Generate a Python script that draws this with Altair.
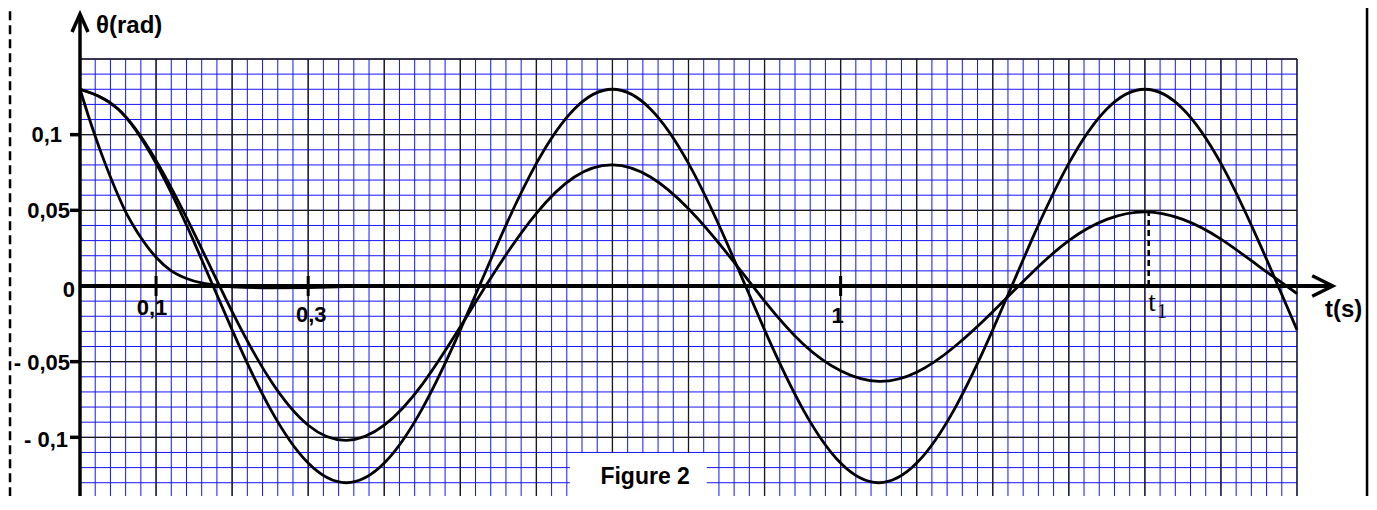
import altair as alt
import pandas as pd

# ---------------- data ----------------
t_osc = [0.00, 0.05, 0.10, 0.15, 0.20, 0.25, 0.30, 0.35, 0.40, 0.45, 0.50,
         0.55, 0.60, 0.65, 0.70, 0.75, 0.80, 0.85, 0.90, 0.95, 1.00, 1.05,
         1.10, 1.15, 1.20, 1.25, 1.30, 1.35, 1.40, 1.45, 1.50, 1.55, 1.60]

# free (undamped) oscillation
theta_free = [0.130, 0.117, 0.081, 0.029, -0.029, -0.081, -0.117, -0.130,
              -0.117, -0.081, -0.029, 0.029, 0.081, 0.117, 0.130, 0.117,
              0.081, 0.029, -0.029, -0.081, -0.117, -0.130, -0.117, -0.081,
              -0.029, 0.029, 0.081, 0.117, 0.130, 0.117, 0.081, 0.029, -0.029]

# damped (pseudo-periodic) oscillation
theta_damped = [0.130, 0.117, 0.083, 0.035, -0.017, -0.062, -0.092, -0.102,
                -0.092, -0.065, -0.027, 0.013, 0.048, 0.072, 0.080, 0.072,
                0.051, 0.022, -0.010, -0.038, -0.056, -0.063, -0.057, -0.040,
                -0.017, 0.008, 0.030, 0.044, 0.049, 0.044, 0.031, 0.013, -0.005]

# aperiodic regime
t_aper = [0.00, 0.01, 0.02, 0.03, 0.04, 0.05, 0.06, 0.07, 0.08, 0.09, 0.10,
          0.12, 0.14, 0.16, 0.18, 0.20, 0.25, 0.30, 0.35, 0.40, 0.60]
theta_aper = [0.130, 0.114, 0.099, 0.085, 0.072, 0.060, 0.049, 0.040, 0.032,
              0.025, 0.019, 0.010, 0.005, 0.002, 0.0005, -0.0005, -0.0012,
              -0.0010, -0.0004, 0.0, 0.0]

# grid
minor_t = [round(i * 0.02, 2) for i in range(81)]
minor_th = [round(-0.15 + i * 0.01, 2) for i in range(31)]
major_t = [round(i * 0.1, 1) for i in range(17)]
major_th = [-0.15, -0.10, -0.05, 0.0, 0.05, 0.10, 0.15]

# axis labels
y_labels = ["0,1", "0,05", "0", "- 0,05", "- 0,1"]
y_label_vals = [0.1, 0.05, 0.0, -0.05, -0.1]
y_tick_vals = [0.1, 0.05, -0.05, -0.1]
x_labels = ["0,1", "0,3", "1"]
x_label_vals = [0.1, 0.3, 1.0]
t1_value = 1.405
t1_theta = 0.049

# ---------------- chart ----------------
W, H = 1217, 437
xs = alt.Scale(domain=[0, 1.6], nice=False, zero=False)
ys = alt.Scale(domain=[-0.13877, 0.15], nice=False, zero=False)


def X(f="t"):
    return alt.X(f"{f}:Q", scale=xs, axis=None)


def Y(f="th"):
    return alt.Y(f"{f}:Q", scale=ys, axis=None)


FONT = "Liberation Sans"
BLUE = "#1414ff"
layers = []

# grid
layers.append(alt.Chart(pd.DataFrame({"t": minor_t})).mark_rule(
    color=BLUE, strokeWidth=1).encode(x=X()))
layers.append(alt.Chart(pd.DataFrame({"th": minor_th})).mark_rule(
    color=BLUE, strokeWidth=1).encode(y=Y(), x=alt.value(0), x2=alt.value(W)))
layers.append(alt.Chart(pd.DataFrame({"t": major_t})).mark_rule(
    color="#1a1a1a", strokeWidth=1.3).encode(x=X()))
layers.append(alt.Chart(pd.DataFrame({"th": major_th})).mark_rule(
    color="#1a1a1a", strokeWidth=1.3).encode(y=Y(), x=alt.value(0), x2=alt.value(W)))

# white box for "Figure 2"
layers.append(alt.Chart(pd.DataFrame({"t": [0.644], "t2": [0.824],
                                      "th": [-0.1104], "th2": [-0.2]}))
              .mark_rect(color="white").encode(x=X(), x2="t2:Q", y=Y(), y2="th2:Q"))

# curves
df_osc = pd.DataFrame({"t": t_osc, "free": theta_free, "damped": theta_damped})
layers.append(alt.Chart(df_osc).mark_line(color="black", strokeWidth=2.8,
                                          interpolate="natural")
              .encode(x=X(), y=Y("free")))
layers.append(alt.Chart(df_osc).mark_line(color="black", strokeWidth=2.8,
                                          interpolate="natural")
              .encode(x=X(), y=Y("damped")))
layers.append(alt.Chart(pd.DataFrame({"t": t_aper, "th": theta_aper}))
              .mark_line(color="black", strokeWidth=2.8, interpolate="monotone")
              .encode(x=X(), y=Y()))

# axes lines
layers.append(alt.Chart(pd.DataFrame({"t": [0.0], "th": [-0.2], "th2": [0.178]}))
              .mark_rule(color="black", strokeWidth=3.5)
              .encode(x=X(), y=Y(), y2="th2:Q"))
layers.append(alt.Chart(pd.DataFrame({"t": [0.0], "t2": [1.645], "th": [0.0]}))
              .mark_rule(color="black", strokeWidth=4)
              .encode(x=X(), x2="t2:Q", y=Y()))

# arrow heads
layers.append(alt.Chart(pd.DataFrame({"t": [-0.0105, 0.0, 0.0105],
                                      "th": [0.1678, 0.1797, 0.1678],
                                      "o": [0, 1, 2]}))
              .mark_line(color="black", strokeWidth=3.5, strokeJoin="miter")
              .encode(x=X(), y=Y(), order="o:Q"))
layers.append(alt.Chart(pd.DataFrame({"t": [1.620, 1.647, 1.620],
                                      "th": [0.0068, 0.0, -0.0068],
                                      "o": [0, 1, 2]}))
              .mark_line(color="black", strokeWidth=3.5, strokeJoin="miter")
              .encode(x=X(), y=Y(), order="o:Q"))

# tick marks
layers.append(alt.Chart(pd.DataFrame({"th": y_tick_vals}))
              .mark_rule(color="black", strokeWidth=3.5)
              .encode(x=alt.value(-10), x2=alt.value(0), y=Y()))
layers.append(alt.Chart(pd.DataFrame({"t": x_label_vals, "th": [0.0066] * 3,
                                      "th2": [-0.0066] * 3}))
              .mark_rule(color="black", strokeWidth=3)
              .encode(x=X(), y=Y(), y2="th2:Q"))

# dashed t1 line
layers.append(alt.Chart(pd.DataFrame({"t": [t1_value], "th": [0.0], "th2": [t1_theta]}))
              .mark_rule(color="black", strokeWidth=2.5, strokeDash=[6, 4])
              .encode(x=X(), y=Y(), y2="th2:Q"))

# y labels
y_dx = [-18, -10, -5, -10, -12]
y_dy = [7, 8, 11, 8, 10]
for lab, v, dx, dy in zip(y_labels, y_label_vals, y_dx, y_dy):
    layers.append(alt.Chart(pd.DataFrame({"t": [0.0], "th": [v], "lab": [lab]}))
                  .mark_text(font=FONT, fontWeight="bold", fontSize=22,
                             align="right", baseline="alphabetic", dx=dx, dy=dy)
                  .encode(x=X(), y=Y(), text="lab:N"))

# x labels
x_dx = [-4, 3, -3]
x_dy = [29, 36, 37]
for lab, v, dx, dy in zip(x_labels, x_label_vals, x_dx, x_dy):
    layers.append(alt.Chart(pd.DataFrame({"t": [v], "th": [0.0], "lab": [lab]}))
                  .mark_text(font=FONT, fontWeight="bold", fontSize=22,
                             align="center", baseline="alphabetic", dx=dx, dy=dy)
                  .encode(x=X(), y=Y(), text="lab:N"))

# t1 label
layers.append(alt.Chart(pd.DataFrame({"t": [1.4], "th": [0.0], "lab": ["t"]}))
              .mark_text(font="Liberation Serif", fontSize=27, align="center",
                         baseline="alphabetic", dx=7, dy=25)
              .encode(x=X(), y=Y(), text="lab:N"))
layers.append(alt.Chart(pd.DataFrame({"t": [1.4], "th": [0.0], "lab": ["1"]}))
              .mark_text(font="Liberation Serif", fontSize=21, align="center",
                         baseline="alphabetic", dx=17, dy=32)
              .encode(x=X(), y=Y(), text="lab:N"))

# axis titles
layers.append(alt.Chart(pd.DataFrame({"t": [0.0], "th": [0.15], "lab": ["θ(rad)"]}))
              .mark_text(font=FONT, fontWeight="bold", fontSize=24, align="left",
                         baseline="alphabetic", dx=16, dy=-26)
              .encode(x=X(), y=Y(), text="lab:N"))
layers.append(alt.Chart(pd.DataFrame({"t": [1.6], "th": [0.0], "lab": ["t(s)"]}))
              .mark_text(font=FONT, fontWeight="bold", fontSize=24, align="left",
                         baseline="alphabetic", dx=28, dy=31)
              .encode(x=X(), y=Y(), text="lab:N"))

# Figure 2
layers.append(alt.Chart(pd.DataFrame({"t": [0.743], "th": [-0.1308], "lab": ["Figure 2"]}))
              .mark_text(font=FONT, fontWeight="bold", fontSize=23, align="center",
                         baseline="alphabetic")
              .encode(x=X(), y=Y(), text="lab:N"))

# page borders
layers.append(alt.Chart(pd.DataFrame({"t": [1.6921], "th": [-0.25], "th2": [0.25]}))
              .mark_rule(color="black", strokeWidth=2.5)
              .encode(x=X(), y=Y(), y2="th2:Q"))
layers.append(alt.Chart(pd.DataFrame({"t": [-0.0920], "th": [-0.25], "th2": [0.25]}))
              .mark_rule(color="black", strokeWidth=2.5, strokeDash=[9, 5])
              .encode(x=X(), y=Y(), y2="th2:Q"))

chart = alt.layer(*layers).properties(
    width=W, height=H,
    padding={"left": 72, "top": 51, "right": 72, "bottom": 0},
    autosize=alt.AutoSizeParams(type="none"),
    background="white",
).configure_view(stroke=None)

chart.save("out.html", embed_options={"renderer": "svg", "actions": False})
